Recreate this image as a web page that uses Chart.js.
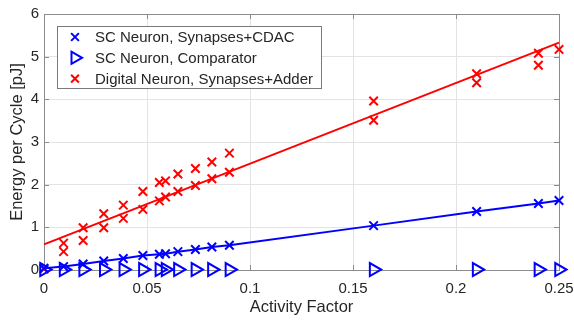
<!DOCTYPE html>
<html>
<head>
<meta charset="utf-8">
<script src="https://cdn.jsdelivr.net/npm/chart.js@4.4.1/dist/chart.umd.min.js"></script>
<style>
  html, body { margin: 0; padding: 0; background: #ffffff; }
  #c { display: block; }
</style>
</head>
<body>
<canvas id="c" width="574" height="322"></canvas>
<script>
// ---- data ----
const seriesLabels = ['SC Neuron, Synapses+CDAC', 'SC Neuron, Comparator', 'Digital Neuron, Synapses+Adder'];
const xsSC = [0, 0.0095, 0.019, 0.029, 0.0385, 0.048, 0.056, 0.059, 0.065, 0.0735, 0.0815, 0.09, 0.16, 0.21, 0.24, 0.25];
const energyCDAC = [0.04, 0.08, 0.14, 0.21, 0.27, 0.34, 0.37, 0.38, 0.43, 0.48, 0.54, 0.58, 1.04, 1.37, 1.56, 1.63];
const energyComparator = [0.01, 0.01, 0.01, 0.01, 0.01, 0.01, 0.01, 0.01, 0.01, 0.01, 0.01, 0.01, 0.01, 0.01, 0.01, 0.01];
const xsDigital = [0, 0.0095, 0.0095, 0.019, 0.019, 0.029, 0.029, 0.0385, 0.0385, 0.048, 0.048, 0.056, 0.056, 0.059, 0.059,
                   0.065, 0.065, 0.0735, 0.0735, 0.0815, 0.0815, 0.09, 0.09, 0.16, 0.16, 0.21, 0.21, 0.24, 0.24, 0.25];
const energyDigital = [0.02, 0.63, 0.43, 0.99, 0.69, 1.32, 0.99, 1.52, 1.21, 1.84, 1.42, 2.05, 1.62, 2.09, 1.71,
                       2.25, 1.84, 2.38, 1.98, 2.53, 2.14, 2.74, 2.29, 3.96, 3.51, 4.60, 4.39, 5.08, 4.80, 5.17];
const fitX = [0, 0.25];
const fitDigital = [0.6, 5.33];
const xTickValues = [0, 0.05, 0.1, 0.15, 0.2, 0.25];
const xTickLabels = ['0', '0.05', '0.1', '0.15', '0.2', '0.25'];
const yTickValues = [0, 1, 2, 3, 4, 5, 6];
const yTickLabels = ['0', '1', '2', '3', '4', '5', '6'];
const xTitle = 'Activity Factor';
const yTitle = 'Energy per Cycle [pJ]';

const pts = (xs, ys) => xs.map((x, i) => ({ x: x, y: ys[i] }));

const FONT = '"Liberation Sans", Arial, Helvetica, sans-serif';
const AXIS_COLOR = '#8c8c8c';
const TEXT_COLOR = '#262626';
const BLUE = '#0000ff';
const RED = '#ff0000';

const datasets = [
  {
    label: seriesLabels[0],
    data: pts(xsSC, energyCDAC),
    showLine: true,
    borderColor: BLUE,
    borderWidth: 2,
    pointStyle: 'crossRot',
    pointRadius: 6,
    pointBorderWidth: 2,
    pointBorderColor: BLUE,
    pointBackgroundColor: BLUE,
    clip: false,
    order: 2,
    legend: true
  },
  {
    label: seriesLabels[1],
    data: pts(xsSC, energyComparator),
    showLine: false,
    borderColor: BLUE,
    pointStyle: 'triangle',
    rotation: 90,
    pointRadius: 7.5,
    pointBorderWidth: 2,
    pointBorderColor: BLUE,
    pointBackgroundColor: 'rgba(0,0,0,0)',
    clip: false,
    order: 1,
    legend: true
  },
  {
    label: seriesLabels[2],
    data: pts(xsDigital, energyDigital),
    showLine: false,
    borderColor: RED,
    pointStyle: 'crossRot',
    pointRadius: 6,
    pointBorderWidth: 2,
    pointBorderColor: RED,
    pointBackgroundColor: RED,
    clip: false,
    order: 3,
    legend: true
  },
  {
    label: 'fit',
    data: pts(fitX, fitDigital),
    showLine: true,
    borderColor: RED,
    borderWidth: 2,
    pointRadius: 0,
    clip: false,
    order: 4,
    legend: false
  }
];

const framePlugin = {
  id: 'frameAndLegend',
  beforeDatasetsDraw(chart) {
    const ctx = chart.ctx;
    const a = chart.chartArea;
    const xs = chart.scales.x, ys = chart.scales.y;
    ctx.save();
    ctx.strokeStyle = AXIS_COLOR;
    ctx.lineWidth = 1;
    ctx.beginPath();
    ctx.rect(Math.round(a.left) + 0.5, Math.round(a.top) + 0.5, Math.round(a.right - a.left), Math.round(a.bottom - a.top));
    ctx.stroke();
    const tl = 5;
    ctx.beginPath();
    xTickValues.forEach(v => {
      const px = Math.round(xs.getPixelForValue(v)) + 0.5;
      ctx.moveTo(px, a.bottom); ctx.lineTo(px, a.bottom - tl);
      ctx.moveTo(px, a.top); ctx.lineTo(px, a.top + tl);
    });
    yTickValues.forEach(v => {
      const py = Math.round(ys.getPixelForValue(v)) + 0.5;
      ctx.moveTo(a.left, py); ctx.lineTo(a.left + tl, py);
      ctx.moveTo(a.right, py); ctx.lineTo(a.right - tl, py);
    });
    ctx.stroke();
    ctx.restore();
  },
  afterDraw(chart) {
    const ctx = chart.ctx;
    const a = chart.chartArea;
    ctx.save();
    const bx = a.left + 13, by = a.top + 12, bw = 264, bh = 62;
    ctx.fillStyle = '#ffffff';
    ctx.fillRect(bx, by, bw, bh);
    ctx.lineWidth = 1;
    ctx.strokeStyle = '#7a7a7a';
    ctx.strokeRect(Math.round(bx) + 0.5, Math.round(by) + 0.5, bw, bh);
    const rowH = 20.8;
    const items = chart.data.datasets.filter(d => d.legend);
    items.forEach((d, i) => {
      const cy = by + 11 + i * rowH;
      const mx = bx + 18;
      ctx.strokeStyle = d.pointBorderColor;
      ctx.fillStyle = d.pointBackgroundColor;
      ctx.lineWidth = 2;
      Chart.helpers.drawPoint(ctx, {
        pointStyle: d.pointStyle,
        rotation: d.rotation || 0,
        radius: d.pointStyle === 'triangle' ? 7 : 5.5,
        borderWidth: 2
      }, mx, cy);
      ctx.fillStyle = TEXT_COLOR;
      ctx.font = '15px ' + FONT;
      ctx.textAlign = 'left';
      ctx.textBaseline = 'middle';
      ctx.fillText(d.label, bx + 38, cy + 1);
    });
    ctx.restore();
  }
};

new Chart(document.getElementById('c'), {
  type: 'scatter',
  data: { datasets: datasets },
  plugins: [framePlugin],
  options: {
    responsive: false,
    animation: false,
    devicePixelRatio: 1,
    layout: { padding: { top: 12, right: 0, left: 0, bottom: 0 } },
    plugins: {
      legend: { display: false },
      tooltip: { enabled: false }
    },
    scales: {
      x: {
        type: 'linear',
        min: 0,
        max: 0.25,
        afterBuildTicks: (s) => { s.ticks = xTickValues.map(v => ({ value: v })); },
        afterFit: (s) => { s.height = 52; s.paddingRight = 15; s.paddingLeft = 0; },
        ticks: {
          callback: (v, i) => xTickLabels[i],
          color: TEXT_COLOR,
          font: { family: FONT, size: 15 },
          padding: 10,
          maxRotation: 0,
          autoSkip: false
        },
        grid: { color: '#e3e3e3', drawTicks: false, lineWidth: 1 },
        border: { color: AXIS_COLOR, width: 1 },
        title: {
          display: true,
          text: xTitle,
          color: TEXT_COLOR,
          font: { family: FONT, size: 16.5 },
          padding: { top: 0, bottom: 5 }
        }
      },
      y: {
        type: 'linear',
        min: 0,
        max: 6,
        afterBuildTicks: (s) => { s.ticks = yTickValues.map(v => ({ value: v })); },
        afterFit: (s) => { s.width = 44; },
        ticks: {
          callback: (v, i) => yTickLabels[i],
          color: TEXT_COLOR,
          font: { family: FONT, size: 15 },
          padding: 5,
          autoSkip: false
        },
        grid: { color: '#e3e3e3', drawTicks: false, lineWidth: 1 },
        border: { color: AXIS_COLOR, width: 1 },
        title: {
          display: true,
          text: yTitle,
          color: TEXT_COLOR,
          font: { family: FONT, size: 16.5 },
          padding: { top: 8, bottom: 0 }
        }
      }
    }
  }
});
</script>
</body>
</html>
